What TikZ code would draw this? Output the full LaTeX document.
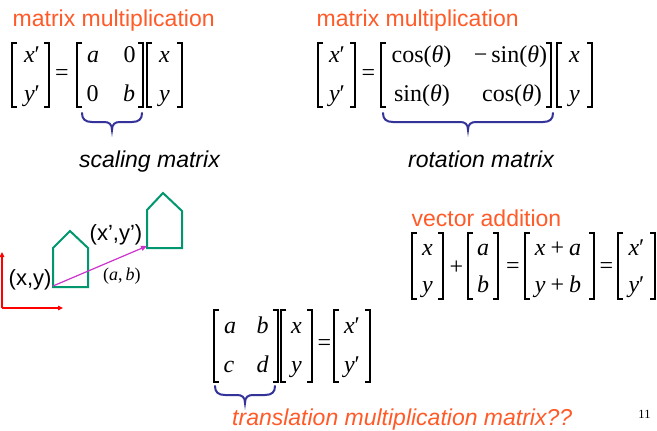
\documentclass[tikz,border=0pt]{standalone}
\usepackage{fontspec}
\setmainfont{Liberation Serif}
\newfontfamily\hsans{Liberation Sans}
\usetikzlibrary{arrows.meta}
\definecolor{ttlc}{RGB}{255,90,40}
\definecolor{brc}{RGB}{51,51,153}
\definecolor{hse}{RGB}{0,150,110}
\definecolor{mag}{RGB}{204,51,204}
\newcommand\mbrack[4]{%
  \draw[brk] ({#1+5},{#3}) -- ({#1},{#3}) -- ({#1},{#4}) -- ({#1+5},{#4});
  \draw[brk] ({#2-5},{#3}) -- ({#2},{#3}) -- ({#2},{#4}) -- ({#2-5},{#4});}
\newcommand\mbrace[3]{%
  \pgfmathsetmacro\bm{(#1+#2)/2}%
  \draw[bracestyle] ({#1},{#3}) .. controls ({#1},{#3+6}) and ({#1+3},{#3+9}) .. ({#1+10},{#3+9})
    -- ({\bm-8},{#3+9}) .. controls ({\bm-3},{#3+9}) and ({\bm},{#3+11}) .. ({\bm},{#3+17})
    .. controls ({\bm},{#3+11}) and ({\bm+3},{#3+9}) .. ({\bm+8},{#3+9})
    -- ({#2-10},{#3+9}) .. controls ({#2-3},{#3+9}) and ({#2},{#3+6}) .. ({#2},{#3});}
\begin{document}
\begin{tikzpicture}[x=1pt,y=-1pt,
  ttl/.style={font=\hsans\fontsize{23}{23}\selectfont, text=ttlc, inner sep=0, anchor=base west},
  capt/.style={font=\hsans\itshape\fontsize{23}{23}\selectfont, inner sep=0, anchor=base},
  ent/.style={font=\fontsize{24}{24}\selectfont, inner sep=0, anchor=base},
  op/.style={font=\fontsize{24}{24}\selectfont, inner sep=0, anchor=center},
  lbl/.style={font=\hsans\fontsize{22}{22}\selectfont, inner sep=0, anchor=base west},
  brk/.style={line width=1.3pt, line cap=butt},
  bracestyle/.style={draw=brc, line width=2pt, line cap=round},
  house/.style={draw=hse, line width=2pt, line join=miter},
  axis/.style={draw=red, line width=1.2pt, -{Triangle[length=5pt,width=4.5pt]}}]
\useasboundingbox (0,0) rectangle (657,431);
\fill[white] (0,0) rectangle (657,431);

% ---- scaling
\node[ttl] (t1) at (12.5,27) {matrix multiplication};
\mbrack{12}{49}{43}{107}
\node[ent] (s1) at (32,63) {{\itshape x}′};
\node[ent] (s2) at (32,101) {{\itshape y}′};
\node[op] (s3) at (62,75) {=};
\mbrack{77}{143}{43}{107}
\node[ent] (s4) at (93,63) {\itshape a};
\node[ent] (s5) at (129.5,63) {0};
\node[ent] (s6) at (92.5,101) {0};
\node[ent] (s7) at (129,101) {\itshape b};
\mbrack{147}{182}{43}{107}
\node[ent] (s8) at (164.5,63) {\itshape x};
\node[ent] (s9) at (164.5,101) {\itshape y};
\mbrace{82}{142}{113}
\node[capt] (c1) at (149.5,167) {scaling matrix};

% ---- rotation
\node[ttl] (t2) at (316.5,27) {matrix multiplication};
\mbrack{318}{355}{43}{107}
\node[ent] (r1) at (337,63) {{\itshape x}′};
\node[ent] (r2) at (337,101) {{\itshape y}′};
\node[op] (r3) at (368.5,75) {=};
\mbrack{381}{551}{43}{107}
\node[ent] (r4) at (421.5,63) {cos({\itshape θ})};
\node[ent] (r5) at (510.5,63) {−\,sin({\itshape θ})};
\node[ent] (r6) at (422,101) {sin({\itshape θ})};
\node[ent] (r7) at (512,101) {cos({\itshape θ})};
\mbrack{557}{592}{43}{107}
\node[ent] (r8) at (574.5,63) {\itshape x};
\node[ent] (r9) at (574.5,101) {\itshape y};
\mbrace{383}{553}{113}
\node[capt] (c2) at (481,167) {rotation matrix};

% ---- translation sketch
\coordinate (o) at (2,308);
\coordinate (ya) at (2,252);
\coordinate (xa) at (63,308);
\draw[axis] (o) -- (ya);
\draw[axis] (o) -- (xa);
\draw[house] (53,287) -- (88,287) -- (88,248) -- (70,231) -- (53,248) -- cycle;
\draw[house] (147,248) -- (182,248) -- (182,211) -- (163,193) -- (147,210) -- cycle;
\coordinate (p0) at (53,286);
\coordinate (p1) at (147,246);
\draw[draw=mag, line width=1.2pt, -{Triangle[length=6pt,width=5pt]}] (p0) -- (p1);
\node[lbl] (l1) at (8.5,285) {(x,y)};
\node[lbl] (l2) at (89.5,240) {(x’,y’)};
\node[font=\fontsize{18}{18}\selectfont, inner sep=0, anchor=base west] (l3) at (103,280) {({\itshape a},\,{\itshape b})};

% ---- vector addition
\node[ttl] (t3) at (411.5,226) {vector addition};
\mbrack{412}{443}{233}{299}
\node[ent] (v1) at (427.5,255) {\itshape x};
\node[ent] (v2) at (427.5,292) {\itshape y};
\node[op] (v3) at (456.5,268) {+};
\mbrack{468}{498}{233}{299}
\node[ent] (v4) at (483,255) {\itshape a};
\node[ent] (v5) at (483,292) {\itshape b};
\node[op] (v6) at (513,268) {=};
\mbrack{525}{594}{233}{299}
\node[ent] (v7) at (558,255) {{\itshape x}\hspace{5pt}+\hspace{5pt}{\itshape a}};
\node[ent] (v8) at (558,292) {{\itshape y}\hspace{5pt}+\hspace{5pt}{\itshape b}};
\node[op] (v9) at (606.5,268) {=};
\mbrack{618}{655}{233}{299}
\node[ent] (v10) at (636.5,255) {{\itshape x}′};
\node[ent] (v11) at (636.5,292) {{\itshape y}′};

% ---- translation multiplication
\mbrack{214}{278}{310}{382}
\node[ent] (m1) at (230,333) {\itshape a};
\node[ent] (m2) at (262.5,333) {\itshape b};
\node[ent] (m3) at (229,372) {\itshape c};
\node[ent] (m4) at (262.5,372) {\itshape d};
\mbrack{281}{312}{310}{382}
\node[ent] (m5) at (296.5,333) {\itshape x};
\node[ent] (m6) at (296.5,372) {\itshape y};
\node[op] (m7) at (324.5,345) {=};
\mbrack{334}{370}{310}{382}
\node[ent] (m8) at (352,333) {{\itshape x}′};
\node[ent] (m9) at (352,372) {{\itshape y}′};
\mbrace{215}{275}{386}
\node[capt, text=ttlc, anchor=base west] (c3) at (232,425) {translation multiplication matrix??};
\node[font=\fontsize{12.5}{12.5}\selectfont, inner sep=0, anchor=base] (pg) at (644.5,418) {11};
\end{tikzpicture}
\end{document}
